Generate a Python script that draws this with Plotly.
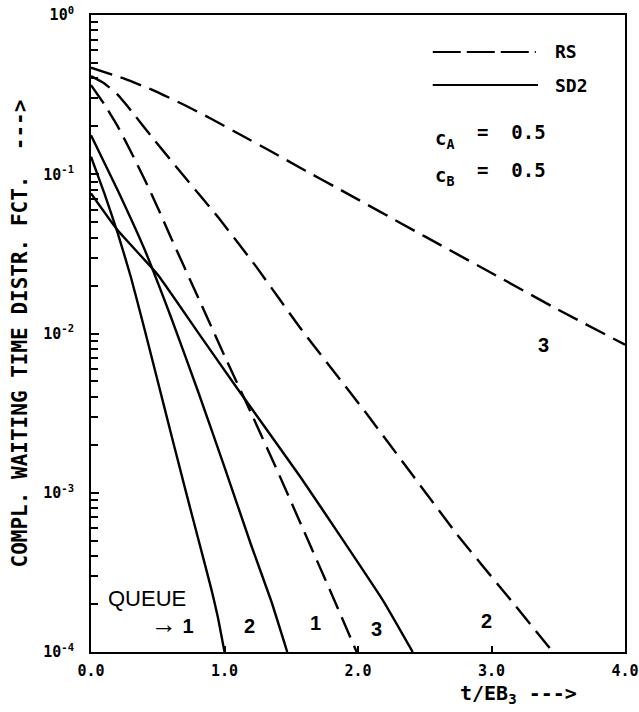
import plotly.graph_objects as go

# ---------------- data ----------------
rs1_t = [0, 0.1, 0.2, 0.3, 0.4, 0.5, 0.6, 0.8, 1.0, 1.2, 1.4, 1.6, 1.8, 1.99]
rs1_p = [0.363, 0.275, 0.200, 0.138, 0.0933, 0.0617, 0.0398, 0.0170, 0.00724,
         0.00316, 0.00135, 0.000562, 0.000234, 0.0001]

rs2_t = [0, 0.1, 0.2, 0.3, 0.45, 0.68, 0.95, 1.24, 1.565, 2.065, 2.4, 2.74, 3.16, 3.46]
rs2_p = [0.413, 0.372, 0.316, 0.251, 0.174, 0.101, 0.0540, 0.0261, 0.0109,
         0.00313, 0.00132, 0.000550, 0.000204, 0.0001]

rs3_t = [0, 0.25, 0.48, 0.70, 0.90, 1.13, 1.35, 1.60, 1.83, 2.5, 3.0, 3.5, 4.0]
rs3_p = [0.467, 0.398, 0.333, 0.272, 0.223, 0.175, 0.139, 0.106, 0.0832,
         0.0407, 0.0240, 0.0141, 0.00851]

sd1_t = [0, 0.1, 0.2, 0.3, 0.4, 0.5, 0.6, 0.7, 0.8, 0.9, 0.95, 1.0]
sd1_p = [0.129, 0.0759, 0.0427, 0.0224, 0.0107, 0.00501, 0.00234, 0.00110,
         0.000525, 0.000251, 0.000166, 0.0001]

sd2_t = [0, 0.2, 0.4, 0.6, 0.8, 1.0, 1.2, 1.35, 1.47]
sd2_p = [0.176, 0.0794, 0.0339, 0.0126, 0.00437, 0.00145, 0.000468, 0.000209, 0.0001]

sd3_t = [0, 0.2, 0.5, 0.8, 1.1, 1.57, 1.89, 2.19, 2.41]
sd3_p = [0.0759, 0.0445, 0.0234, 0.0102, 0.00447, 0.00125, 0.000501, 0.000209, 0.0001]

x_tickvals = [0, 1, 2, 3, 4]
x_ticktext = ["0.0", "1.0", "2.0", "3.0", "4.0"]
y_tickvals = [1, 0.1, 0.01, 0.001, 0.0001]
y_ticktext = ["10<sup>0</sup>", "10<sup>-1</sup>", "10<sup>-2</sup>",
              "10<sup>-3</sup>", "10<sup>-4</sup>"]

# curve labels: (text, t, log10 p)
curve_labels = [
    ("<span style='font-size:26px'>→</span> 1", 0.607, -3.824),
    ("2", 1.19, -3.836),
    ("1", 1.68, -3.818),
    ("3", 2.135, -3.855),
    ("2", 2.96, -3.805),
    ("3", 3.386, -2.075),
]

# ---------------- figure ----------------
MONO = "DejaVu Sans Mono"
SANS = "Liberation Sans"
DASH = "22px,9px"
LW = 2.4

fig = go.Figure()
for t, p in [(rs1_t, rs1_p), (rs2_t, rs2_p), (rs3_t, rs3_p)]:
    fig.add_trace(go.Scatter(x=t, y=p, mode="lines", showlegend=False, hoverinfo="skip",
                             line=dict(color="black", width=LW, dash=DASH,
                                       shape="spline", smoothing=0.4)))
for t, p in [(sd1_t, sd1_p), (sd2_t, sd2_p), (sd3_t, sd3_p)]:
    fig.add_trace(go.Scatter(x=t, y=p, mode="lines", showlegend=False, hoverinfo="skip",
                             line=dict(color="black", width=LW,
                                       shape="spline", smoothing=0.4)))

minor_vals = [m * 10.0 ** e for e in range(-4, 0) for m in range(2, 10)]

fig.update_xaxes(range=[0, 4], tickmode="array", tickvals=x_tickvals,
                 ticktext=x_ticktext, ticks="inside", ticklen=6, tickwidth=2,
                 tickcolor="black", showline=True, linecolor="black", linewidth=2,
                 mirror=True, showgrid=False, zeroline=False, automargin=False,
                 tickfont=dict(family=MONO, size=15, color="black", weight="bold"),
                 ticklabelstandoff=4)
fig.update_yaxes(type="log", range=[-4, 0], tickmode="array", tickvals=y_tickvals,
                 ticktext=y_ticktext, ticks="inside", ticklen=8, tickwidth=2,
                 tickcolor="black", showline=True, linecolor="black", linewidth=2,
                 mirror=True, showgrid=False, zeroline=False, automargin=False,
                 tickfont=dict(family=MONO, size=15, color="black", weight="bold"),
                 ticklabelstandoff=12,
                 minor=dict(tickmode="array", tickvals=minor_vals, ticks="inside",
                            ticklen=7, tickwidth=1.5, tickcolor="black", showgrid=False))

annotations = []
# curve labels
for txt, tx, ly in curve_labels:
    annotations.append(dict(x=tx, y=ly, xref="x", yref="y", text=txt, showarrow=False,
                            xanchor="center", yanchor="middle",
                            font=dict(family=SANS, size=20, color="black", weight="bold")))
annotations.append(dict(x=0.42, y=-3.667, xref="x", yref="y", text="QUEUE",
                        showarrow=False, xanchor="center", yanchor="middle",
                        font=dict(family=SANS, size=22, color="black")))

# legend / parameter text
def ptext(x, y, text, size):
    return dict(x=x, y=y, xref="paper", yref="paper", text=text, showarrow=False,
                xanchor="left", yanchor="middle",
                font=dict(family=MONO, size=size, color="black", weight="bold"))

annotations += [
    ptext(0.865, 0.942, "RS", 18),
    ptext(0.865, 0.890, "SD2", 18),
    ptext(0.640, 0.805, "c<sub>A</sub>", 19),
    ptext(0.719, 0.816, "=  0.5", 19),
    ptext(0.640, 0.746, "c<sub>B</sub>", 19),
    ptext(0.719, 0.757, "=  0.5", 19),
]
# axis titles
annotations.append(dict(x=0.80, y=-0.066, xref="paper", yref="paper",
                        xanchor="center", yanchor="middle",
                        text="t/EB<sub>3</sub> --->", showarrow=False,
                        font=dict(family=MONO, size=20, color="black", weight="bold")))
annotations.append(dict(x=-0.133, y=0.50, xref="paper", yref="paper",
                        xanchor="center", yanchor="middle",
                        text="COMPL. WAITING TIME DISTR. FCT.  --->", textangle=-90,
                        showarrow=False,
                        font=dict(family=MONO, size=21, color="black", weight="bold")))

shapes = [
    dict(type="line", xref="paper", yref="paper", x0=0.640, x1=0.833, y0=0.942, y1=0.942,
         line=dict(color="black", width=2, dash="28px,6px")),
    dict(type="line", xref="paper", yref="paper", x0=0.640, x1=0.837, y0=0.890, y1=0.890,
         line=dict(color="black", width=2)),
]

fig.update_layout(width=639, height=712, margin=dict(l=91, r=14, t=15, b=60),
                  paper_bgcolor="white", plot_bgcolor="white", hovermode=False,
                  annotations=annotations, shapes=shapes, showlegend=False)

fig.write_html("out.html", config={"displayModeBar": False},
               post_script="document.body.style.margin='0';document.body.style.overflow='hidden';")
